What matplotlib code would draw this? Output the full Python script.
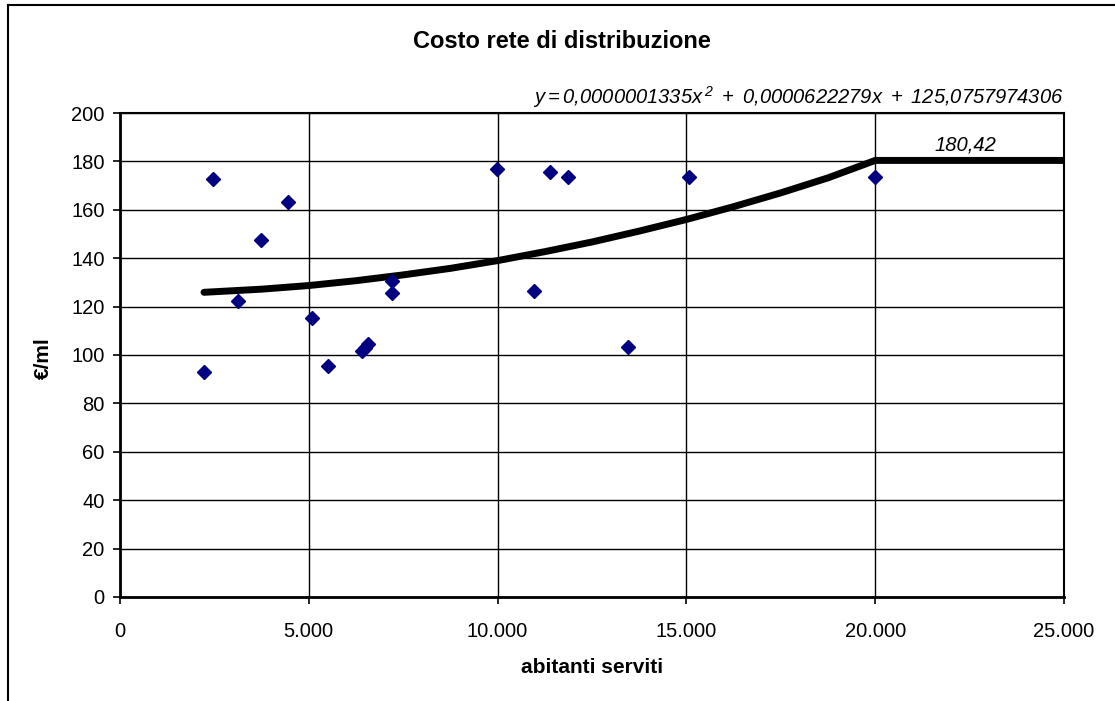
import matplotlib
matplotlib.use("Agg")
import matplotlib.pyplot as plt
from matplotlib.lines import Line2D
from matplotlib.ticker import FuncFormatter, MultipleLocator

plt.rcParams["font.family"] = ["Liberation Sans", "DejaVu Sans"]
plt.rcParams["mathtext.fontset"] = "custom"
plt.rcParams["mathtext.rm"] = "Liberation Sans:italic"
plt.rcParams["mathtext.it"] = "Liberation Sans:italic"

# --- data ---
abitanti = [2225, 2463, 3133, 3734, 4449, 5085, 5500, 6400, 6480, 6560,
            7195, 7195, 9976, 10956, 11388, 11864, 13461, 15077, 19995]
costo = [93.1, 172.7, 122.3, 147.5, 163.2, 115.3, 95.6, 101.8, 103.0, 104.4,
         130.7, 125.8, 176.9, 126.3, 175.7, 173.4, 103.2, 173.4, 173.4]

# trend curve, then flat cap
curve_x = [2225, 3750, 5000, 6250, 7500, 8750, 10000, 11250, 12500,
           13750, 15000, 16250, 17500, 18750, 20000, 25000]
curve_y = [125.9, 127.2, 128.7, 130.7, 133.1, 135.8, 139.0, 142.7, 146.7,
           151.2, 156.0, 161.3, 167.0, 173.2, 180.4, 180.4]

title = "Costo rete di distribuzione"
equation = r"$y = 0{,}0000001335x^{\,2}\ +\ 0{,}0000622279x\ +\ 125{,}0757974306$"
cap_label = "180,42"

# --- figure ---
fig = plt.figure(figsize=(11.15, 7.01), dpi=100)
ax = fig.add_axes([0.1076, 0.1484, 0.8467, 0.6904])

ax.plot(curve_x, curve_y, color="black", lw=5, solid_capstyle="round", zorder=3)
ax.plot(abitanti, costo, ls="none", marker="D", ms=7.5, color="#000080",
        markeredgecolor="#000080", zorder=4)

ax.set_xlim(0, 25000)
ax.set_ylim(0, 200)
ax.xaxis.set_major_locator(MultipleLocator(5000))
ax.yaxis.set_major_locator(MultipleLocator(20))
ax.xaxis.set_major_formatter(FuncFormatter(lambda v, p: f"{int(v):,}".replace(",", ".")))
ax.grid(True, color="black", lw=1)
ax.set_axisbelow(True)

for side in ["left", "bottom"]:
    ax.spines[side].set_linewidth(2)
for side in ["top", "right"]:
    ax.spines[side].set_linewidth(1.5)

ax.tick_params(axis="both", direction="out", length=5, width=1.2,
               labelsize=14.5, colors="black")
ax.tick_params(axis="x", pad=13)
ax.tick_params(axis="y", pad=6)

ax.set_xlabel("abitanti serviti", fontsize=15, fontweight="bold")
ax.set_ylabel("€/ml", fontsize=15, fontweight="bold")
ax.xaxis.set_label_coords(0.5, -0.126)
ax.yaxis.set_label_coords(-0.071, 0.494)

fig.text(0.504, 0.9415, title, ha="center", va="center", fontsize=17, fontweight="bold")
fig.text(0.7157, 0.8616, equation, ha="center", va="center", fontsize=14.5)
ax.text(22380, 183, cap_label, ha="center", va="bottom", fontsize=14.5, style="italic")

# chart-area frame (left and top edges visible)
fig.add_artist(Line2D([0.0075, 0.0075], [0.0, 0.993], transform=fig.transFigure,
                      color="black", lw=1.5))
fig.add_artist(Line2D([0.0075, 1.0], [0.993, 0.993], transform=fig.transFigure,
                      color="black", lw=1.5))

fig.savefig("out.png", dpi=100)
